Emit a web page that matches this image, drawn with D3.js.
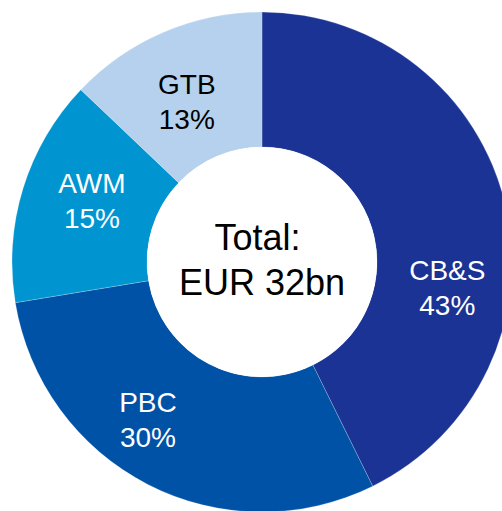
<!DOCTYPE html>
<html>
<head>
<meta charset="utf-8">
<script src="https://cdn.jsdelivr.net/npm/d3@7"></script>
<style>
  html, body { margin: 0; padding: 0; background: #fff; overflow: hidden; }
  svg { display: block; }
  text { font-family: Arial, "Liberation Sans", sans-serif; }
</style>
</head>
<body>
<svg></svg>
<script>
// segment shares and their printed labels
const segments = ["CB&S", "PBC", "AWM", "GTB"]
const shares   = [42.7, 29.7, 14.7, 12.9]
const pctLabels = ["43%", "30%", "15%", "13%"]
const totalLines = ["Total:", "EUR 32bn"]

const width = 502, height = 511
const cx = 262, cy = 262
const outerR = 250, innerR = 115

const colors = d3.scaleOrdinal()
    .domain(segments)
    .range(["#1b3394", "#0052a6", "#0095d1", "#b5d1ee"])
const textColors = d3.scaleOrdinal()
    .domain(segments)
    .range(["#fff", "#fff", "#fff", "#000"])

// label placement, polar around the centre (deg clockwise from 12 o'clock, px)
const labelPolar = {
  "CB&S": [97.7, 187],
  "PBC":  [216, 194],
  "AWM":  [290, 181],
  "GTB":  [335, 178]
}

const svg = d3.select("svg")
    .attr("width", width)
    .attr("height", height)

const g = svg.append("g")
    .attr("transform", `translate(${cx},${cy})`)

const data = segments.map((s, i) => ({name: s, value: shares[i], pct: pctLabels[i]}))

const pie = d3.pie()
    .value(d => d.value)
    .sort(null)

const arc = d3.arc()
    .innerRadius(innerR)
    .outerRadius(outerR)

g.selectAll("path.slice")
  .data(pie(data))
  .join("path")
    .attr("class", "slice")
    .attr("d", arc)
    .attr("fill", d => colors(d.data.name))
    .attr("stroke", "rgba(255,255,255,0.35)")
    .attr("stroke-width", 0.6)

g.append("circle")
    .attr("r", innerR)
    .attr("fill", "#fff")

const labels = g.selectAll("text.lbl")
  .data(data)
  .join("text")
    .attr("class", "lbl")
    .attr("text-anchor", "middle")
    .attr("font-size", 28)
    .attr("fill", d => textColors(d.name))
    .attr("transform", d => {
      const [a, r] = labelPolar[d.name]
      const rad = a * Math.PI / 180
      return `translate(${r * Math.sin(rad)},${-r * Math.cos(rad)})`
    })

labels.append("tspan")
    .attr("x", 0)
    .attr("y", -7)
    .text(d => d.name)

labels.append("tspan")
    .attr("x", 0)
    .attr("y", 28)
    .text(d => d.pct)

g.append("text")
    .attr("text-anchor", "middle")
    .attr("font-size", 36)
    .attr("fill", "#000")
    .selectAll("tspan")
    .data(totalLines)
    .join("tspan")
      .attr("x", (d, i) => i === 0 ? -4.5 : 0)
      .attr("y", (d, i) => -12 + i * 45)
      .text(d => d)
</script>
</body>
</html>
